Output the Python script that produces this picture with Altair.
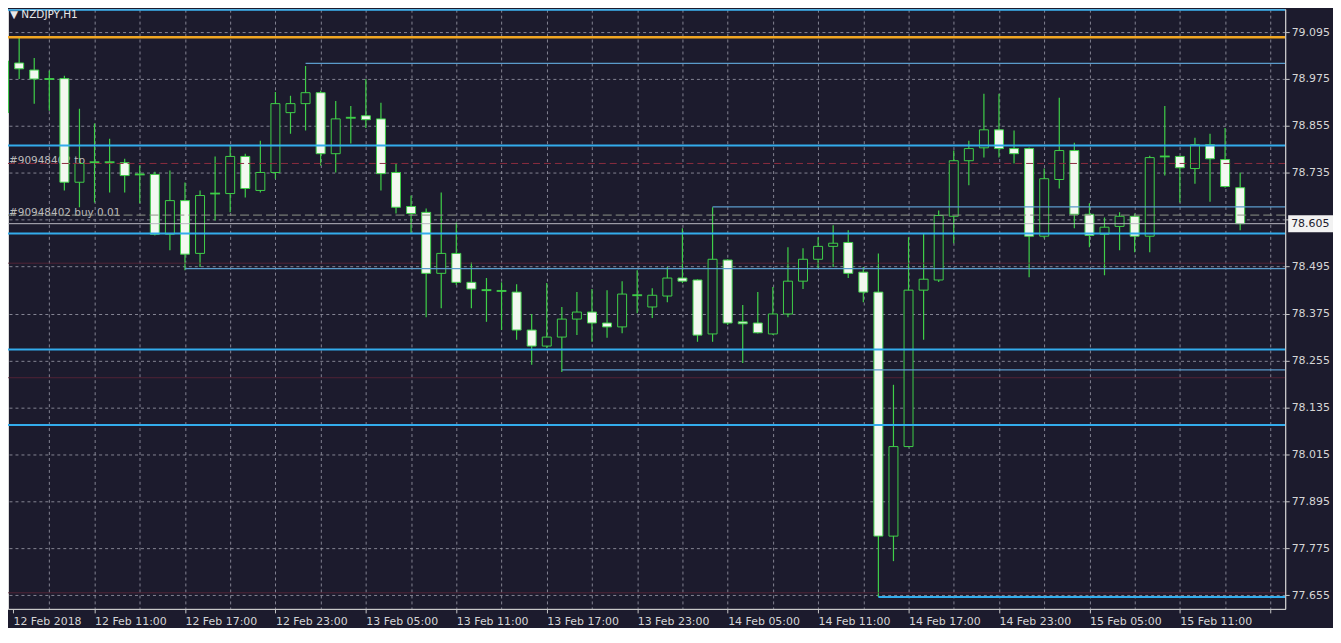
import json
import altair as alt
import pandas as pd

# ---------------- data ----------------
BARS = list(range(83))
OPEN = [78.889, 79.016, 78.998, 78.975, 78.976, 78.711, 78.762, 78.762, 78.761, 78.731,
        78.731, 78.578, 78.664, 78.529, 78.682, 78.682, 78.777, 78.690, 78.736, 78.889,
        78.912, 78.940, 78.784, 78.876, 78.881, 78.873, 78.736, 78.649, 78.634, 78.478,
        78.529, 78.455, 78.435, 78.433, 78.430, 78.333, 78.292, 78.315, 78.361, 78.379,
        78.351, 78.341, 78.422, 78.392, 78.420, 78.466, 78.461, 78.323, 78.512, 78.354,
        78.351, 78.323, 78.374, 78.458, 78.514, 78.547, 78.557, 78.481, 78.430, 77.806,
        78.035, 78.435, 78.461, 78.624, 78.766, 78.799, 78.845, 78.797, 78.797, 78.573,
        78.718, 78.792, 78.629, 78.578, 78.598, 78.624, 78.573, 78.777, 78.777, 78.746,
        78.807, 78.769, 78.697]
HIGH = [79.034, 79.080, 79.029, 78.996, 78.983, 78.899, 78.861, 78.822, 78.771, 78.754,
        78.738, 78.741, 78.710, 78.690, 78.777, 78.805, 78.784, 78.817, 78.942, 78.932,
        79.008, 78.945, 78.919, 78.906, 78.975, 78.914, 78.759, 78.677, 78.644, 78.685,
        78.608, 78.506, 78.466, 78.455, 78.450, 78.374, 78.453, 78.392, 78.430, 78.438,
        78.435, 78.458, 78.486, 78.440, 78.494, 78.593, 78.463, 78.647, 78.514, 78.397,
        78.430, 78.443, 78.545, 78.542, 78.570, 78.601, 78.588, 78.494, 78.529, 78.193,
        78.570, 78.580, 78.639, 78.792, 78.817, 78.937, 78.937, 78.843, 78.800, 78.746,
        78.927, 78.812, 78.657, 78.621, 78.634, 78.631, 78.779, 78.906, 78.779, 78.825,
        78.835, 78.850, 78.736]
LOW = [78.855, 78.975, 78.912, 78.894, 78.690, 78.647, 78.659, 78.685, 78.685, 78.657,
       78.575, 78.537, 78.486, 78.494, 78.613, 78.634, 78.672, 78.685, 78.720, 78.835,
       78.843, 78.754, 78.736, 78.810, 78.850, 78.690, 78.631, 78.580, 78.366, 78.389,
       78.448, 78.389, 78.354, 78.333, 78.308, 78.244, 78.287, 78.226, 78.320, 78.303,
       78.313, 78.325, 78.376, 78.364, 78.404, 78.453, 78.303, 78.303, 78.346, 78.249,
       78.324, 78.320, 78.366, 78.438, 78.491, 78.494, 78.466, 78.404, 77.650, 77.742,
       78.033, 78.308, 78.456, 78.555, 78.703, 78.774, 78.774, 78.759, 78.468, 78.568,
       78.695, 78.593, 78.545, 78.473, 78.537, 78.532, 78.532, 78.728, 78.659, 78.707,
       78.661, 78.697, 78.588]
CLOSE = [79.021, 79.001, 78.975, 78.975, 78.711, 78.759, 78.762, 78.762, 78.728, 78.731,
         78.578, 78.664, 78.527, 78.677, 78.682, 78.777, 78.695, 78.736, 78.912, 78.912,
         78.940, 78.784, 78.873, 78.876, 78.871, 78.733, 78.647, 78.631, 78.478, 78.529,
         78.455, 78.438, 78.435, 78.433, 78.333, 78.292, 78.315, 78.361, 78.379, 78.351,
         78.341, 78.425, 78.422, 78.422, 78.466, 78.458, 78.320, 78.514, 78.351, 78.349,
         78.326, 78.374, 78.458, 78.514, 78.547, 78.555, 78.478, 78.430, 77.806, 78.035,
         78.435, 78.463, 78.626, 78.766, 78.797, 78.845, 78.797, 78.784, 78.573, 78.720,
         78.792, 78.629, 78.575, 78.596, 78.624, 78.573, 78.774, 78.777, 78.748, 78.807,
         78.771, 78.700, 78.605]

TIME_LABELS = ["12 Feb 2018", "12 Feb 11:00", "12 Feb 17:00", "12 Feb 23:00",
               "13 Feb 05:00", "13 Feb 11:00", "13 Feb 17:00", "13 Feb 23:00",
               "14 Feb 05:00", "14 Feb 11:00", "14 Feb 17:00", "14 Feb 23:00",
               "15 Feb 05:00", "15 Feb 11:00"]
PRICE_TICKS = [77.655, 77.775, 77.895, 78.015, 78.135, 78.255, 78.375, 78.495,
               78.615, 78.735, 78.855, 78.975, 79.095]
CURRENT_PRICE = 78.605
HEADER = "\u25BC NZDJPY,H1"

FULL_LEVELS = [79.152, 78.805, 78.580, 78.283, 78.090]
ORANGE_LEVELS = [79.082]
SEG_START = [20, 47, 12, 37]
SEG_LEVEL = [79.015, 78.648, 78.490, 78.231]
LOW_SEG_START = [58]
LOW_SEG_LEVEL = [77.650]
FAINT_LEVELS = [78.504, 78.211, 77.661]
ORDER_LABELS = ["#90948402 tp", "#90948402 buy 0.01"]
ORDER_LEVELS = [78.759, 78.627]

# ---------------- layout / style ----------------
W, H = 1282, 602
PX_PER_BAR = 15.25
PX_PER_PRICE = 392.5
X_LO = 9 / PX_PER_BAR
X_HI = X_LO + W / PX_PER_BAR
Y_HI = 79.095 + 23 / PX_PER_PRICE
Y_LO = Y_HI - H / PX_PER_PRICE

BG = "#1c1b2d"
GREEN = "#3fcf48"
BEAR_FILL = "#f3f8f0"
BLUE = "#33acec"
STEEL = "#5a9bcb"
ORANGE = "#f2a722"
GRID = "#9696a4"
AXIS = "#c8c8c8"
LABEL = "#d6d6d6"
FONT = "DejaVu Sans"

x_scale = alt.Scale(domain=[X_LO, X_HI], nice=False, zero=False)
y_scale = alt.Scale(domain=[Y_LO, Y_HI], nice=False, zero=False)

x_values = [X_LO] + list(range(3, 85, 3))
label_arr = json.dumps(TIME_LABELS)
x_axis = alt.Axis(
    values=x_values,
    labelExpr=f"datum.value < 1 ? {label_arr}[0] : (datum.value % 6 == 0 ? {label_arr}[datum.value / 6] : '')",
    grid=True, gridDash=[3, 3], gridColor=GRID,
    gridOpacity={"condition": {"test": "datum.value < 1", "value": 0}, "value": 0.85},
    tickSize=4, tickColor=AXIS,
    tickOpacity={"condition": {"test": "datum.value < 1 || datum.value % 6 == 0", "value": 1}, "value": 0},
    domainColor=AXIS, labelColor=LABEL, labelFont=FONT, labelFontSize=11,
    labelAlign="left", labelBaseline="top", labelPadding=3,
    labelFlush=False, labelOverlap=False, title=None,
)
y_axis = alt.Axis(
    orient="right", values=PRICE_TICKS,
    labelExpr=f"abs(datum.value - {CURRENT_PRICE}) < 0.03 ? '' : format(datum.value, '.3f')",
    grid=True, gridDash=[3, 3], gridColor=GRID, gridOpacity=0.85,
    tickSize=4, tickColor=AXIS, domainColor=AXIS,
    labelColor=LABEL, labelFont=FONT, labelFontSize=11, labelPadding=2,
    labelFlush=False, labelOverlap=False, title=None,
)

df = pd.DataFrame({"bar": BARS, "open": OPEN, "high": HIGH, "low": LOW, "close": CLOSE})


def yq(field):
    return alt.Y(field, scale=y_scale, axis=y_axis, title=None)


def xq(field):
    return alt.X(field, scale=x_scale, axis=x_axis, title=None)


faint = alt.Chart(pd.DataFrame({"level": FAINT_LEVELS})).mark_rule(
    color="#5e2638", strokeWidth=1, opacity=0.8, clip=True).encode(y=yq("level:Q"))

orders = pd.DataFrame({"label": ORDER_LABELS, "level": ORDER_LEVELS})
order_text = alt.Chart(orders).mark_text(
    align="left", baseline="alphabetic", color="#bcbcbc", font=FONT, fontSize=10.5, dy=1
).encode(x=alt.value(1), y=yq("level:Q"), text="label:N")

wick = alt.Chart(df).mark_rule(color=GREEN, strokeWidth=1.2, clip=True).encode(
    x=xq("bar:Q"), y=yq("low:Q"), y2="high:Q",
)
body = alt.Chart(df).mark_bar(size=9, stroke=GREEN, strokeWidth=1, clip=True).encode(
    x=xq("bar:Q"),
    y=yq("open:Q"),
    y2="close:Q",
    fill=alt.condition("datum.close < datum.open", alt.value(BEAR_FILL), alt.value(BG)),
)
doji = alt.Chart(df).transform_filter("datum.open == datum.close").mark_tick(
    orient="horizontal", size=10, thickness=2, color=GREEN, clip=True
).encode(x=xq("bar:Q"), y=yq("open:Q"))

tp_line = alt.Chart(orders.iloc[[0]]).mark_rule(
    color="#8a2c3e", strokeDash=[7, 4], strokeWidth=1, clip=True).encode(y=yq("level:Q"))
buy_line = alt.Chart(orders.iloc[[1]]).mark_rule(
    color="#8f9488", strokeDash=[9, 4], strokeWidth=1, clip=True).encode(y=yq("level:Q"))
bid_line = alt.Chart(pd.DataFrame({"level": [CURRENT_PRICE]})).mark_rule(
    color="#b8b8c0", strokeWidth=1, clip=True).encode(y=yq("level:Q"))

full = alt.Chart(pd.DataFrame({"level": FULL_LEVELS})).mark_rule(
    color=BLUE, strokeWidth=2, clip=True).encode(y=yq("level:Q"))
orange = alt.Chart(pd.DataFrame({"level": ORANGE_LEVELS})).mark_rule(
    color=ORANGE, strokeWidth=2.5, clip=True).encode(y=yq("level:Q"))
segs = alt.Chart(pd.DataFrame({"start": SEG_START, "level": SEG_LEVEL})).mark_rule(
    color=STEEL, strokeWidth=1.3, clip=True).encode(
    x=xq("start:Q"), x2=alt.value(W), y=yq("level:Q"))
low_seg = alt.Chart(pd.DataFrame({"start": LOW_SEG_START, "level": LOW_SEG_LEVEL})).mark_rule(
    color=BLUE, strokeWidth=2, clip=True).encode(
    x=xq("start:Q"), x2=alt.value(W), y=yq("level:Q"))

header = alt.Chart(pd.DataFrame({"t": [HEADER]})).mark_text(
    align="left", baseline="middle", color="#e8e8e8", font=FONT, fontSize=10.5
).encode(x=alt.value(2), y=alt.value(6), text="t:N")

half = 8.5 / PX_PER_PRICE
price_df = pd.DataFrame({"price": [CURRENT_PRICE],
                         "top": [CURRENT_PRICE + half], "bot": [CURRENT_PRICE - half],
                         "txt": [f"{CURRENT_PRICE:.3f}"]})
price_box = alt.Chart(price_df).mark_rect(color="#f2f2f2").encode(
    x=alt.value(W + 3), x2=alt.value(W + 48), y=yq("top:Q"), y2="bot:Q")
price_txt = alt.Chart(price_df).mark_text(
    align="left", baseline="middle", color=BG, font=FONT, fontSize=11
).encode(x=alt.value(W + 6), y=yq("price:Q"), text="txt:N")

chart = alt.layer(
    wick, faint, order_text, body, doji, tp_line, buy_line, bid_line,
    full, orange, segs, low_seg, header, price_box, price_txt,
).properties(
    width=W, height=H, background=BG, padding=0,
).configure_view(strokeWidth=0).configure(font=FONT)

chart.save("out.html", embed_options={"renderer": "svg", "actions": False})
